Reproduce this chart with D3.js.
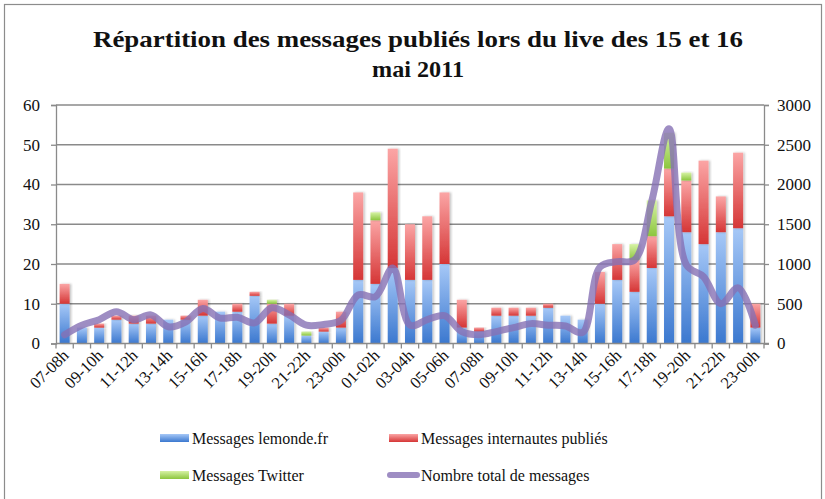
<!DOCTYPE html>
<html>
<head>
<meta charset="utf-8">
<script src="https://cdn.jsdelivr.net/npm/d3@7"></script>
<style>
  body { margin: 0; background: #fff; }
  svg text { font-family: "Liberation Serif", "DejaVu Serif", serif; fill: #111; }
</style>
</head>
<body>
<div id="graphWrapper"></div>
<script>
// hour slots: 15 May 07h -> 16 May 00h, then the whole 16 May
const hours = [];
for (let h = 7; h <= 23; h++) hours.push(h);
for (let h = 0; h <= 23; h++) hours.push(h);
const pad = n => (n < 10 ? '0' : '') + n;
const categories = hours.map(h => pad(h) + '-' + pad((h + 1) % 24) + 'h');

// values
const lemonde     = [10,4,4,6,5,5,6,6,7,8,8,12,5,7,2,3,4,16,15,19,16,16,20,4,3,7,7,7,9,7,6,10,16,13,19,32,28,25,28,29,4];
const internautes = [5,0,1,1,2,2,0,1,4,0,2,1,5,3,0,1,4,22,16,30,14,16,18,7,1,2,2,2,1,0,0,8,9,8,8,12,13,21,9,19,6];
const twitter     = [0,0,0,0,0,0,0,0,0,0,0,0,1,0,1,0,0,0,2,0,0,0,0,0,0,0,0,0,0,0,0,0,0,4,9,9,2,0,0,0,0];
const total       = [110,230,300,400,300,360,210,270,440,320,330,260,450,360,230,240,290,610,590,950,230,300,350,150,110,150,200,250,230,220,140,960,1030,1050,1790,2700,990,840,500,700,230];

const leftTicks = [0,10,20,30,40,50,60];
const rightTicks = [0,500,1000,1500,2000,2500,3000];

const CONSTANTS = {
    WIDTH: 825,
    HEIGHT: 499,
    LEFT: 56,
    RIGHT: 764,
    TOP: 105,
    BOTTOM: 343.5
};

const svg = d3.select('#graphWrapper').append('svg')
    .attr('width', CONSTANTS.WIDTH)
    .attr('height', CONSTANTS.HEIGHT);

// gradients
const defs = svg.append('defs');
function gradient(id, top, bottom) {
    let g = defs.append('linearGradient').attr('id', id)
        .attr('x1', 0).attr('y1', 0).attr('x2', 0).attr('y2', 1);
    g.append('stop').attr('offset', '0%').attr('stop-color', top);
    g.append('stop').attr('offset', '100%').attr('stop-color', bottom);
}
gradient('gBlue', '#a6c8f7', '#3b78cf');
gradient('gRed', '#fba5a5', '#d53636');
gradient('gGreen', '#d6f2a4', '#8cc63e');
defs.append('filter').attr('id', 'shadow')
    .attr('x', '-30%').attr('y', '-10%').attr('width', '160%').attr('height', '120%')
    .append('feDropShadow').attr('dx', 1.5).attr('dy', 0).attr('stdDeviation', 1)
    .attr('flood-color', '#000').attr('flood-opacity', 0.25);

// outer frame
svg.append('rect')
    .attr('x', 4.5).attr('y', 4.5)
    .attr('width', 817).attr('height', 520)
    .attr('fill', 'none').attr('stroke', '#8c8c8c').attr('stroke-width', 1.2);

// title (reference font is wider, so stretch to the same width)
const title = svg.append('text')
    .attr('text-anchor', 'middle')
    .style('font-weight', 'bold')
    .style('font-size', '24px');
title.append('tspan').attr('x', 418).attr('y', 47)
    .attr('textLength', 650).attr('lengthAdjust', 'spacingAndGlyphs')
    .text('Répartition des messages publiés lors du live des 15 et 16');
title.append('tspan').attr('x', 418).attr('y', 77)
    .attr('textLength', 92).attr('lengthAdjust', 'spacingAndGlyphs')
    .text('mai 2011');

// scales
const x = d3.scaleBand()
    .domain(d3.range(categories.length))
    .range([CONSTANTS.LEFT, CONSTANTS.RIGHT])
    .paddingInner(0.42)
    .paddingOuter(0.21);
const yLeft = d3.scaleLinear().domain([0, 60]).range([CONSTANTS.BOTTOM, CONSTANTS.TOP]);
const yRight = d3.scaleLinear().domain([0, 3000]).range([CONSTANTS.BOTTOM, CONSTANTS.TOP]);

// gridlines
svg.append('g').selectAll('line')
    .data(leftTicks.slice(1))
    .enter().append('line')
    .attr('x1', CONSTANTS.LEFT).attr('x2', CONSTANTS.RIGHT)
    .attr('y1', d => yLeft(d)).attr('y2', d => yLeft(d))
    .attr('stroke', '#8a8a8a').attr('stroke-width', 1.3);

// stacked bars
const stackData = categories.map((c, i) => ({ i: i, lemonde: lemonde[i], internautes: internautes[i], twitter: twitter[i] }));
const stack = d3.stack().keys(['lemonde', 'internautes', 'twitter'])(stackData);
const fills = { lemonde: 'url(#gBlue)', internautes: 'url(#gRed)', twitter: 'url(#gGreen)' };

svg.append('g').selectAll('g')
    .data(stack)
    .enter().append('g')
    .attr('fill', d => fills[d.key])
    .selectAll('rect')
    .data(d => d.filter(s => s[1] > s[0]))
    .enter().append('rect')
    .attr('x', d => x(d.data.i))
    .attr('width', x.bandwidth())
    .attr('y', d => yLeft(d[1]))
    .attr('height', d => yLeft(d[0]) - yLeft(d[1]))
    .attr('filter', 'url(#shadow)');

// total line
const line = d3.line()
    .x((d, i) => x(i) + x.bandwidth() / 2)
    .y(d => yRight(d))
    .curve(d3.curveCatmullRom.alpha(0.5));
svg.append('path')
    .datum(total)
    .attr('d', line)
    .attr('fill', 'none')
    .attr('stroke', '#8670b4')
    .attr('stroke-opacity', 0.8)
    .attr('stroke-width', 7)
    .attr('stroke-linecap', 'round')
    .attr('stroke-linejoin', 'round');

// axes
const axisColor = '#8a8a8a';
const leftAxis = svg.append('g')
    .attr('transform', 'translate(' + CONSTANTS.LEFT + ',0)')
    .call(d3.axisLeft(yLeft).tickValues(leftTicks).tickSize(5).tickPadding(11));
const rightAxis = svg.append('g')
    .attr('transform', 'translate(' + CONSTANTS.RIGHT + ',0)')
    .call(d3.axisRight(yRight).tickValues(rightTicks).tickFormat(d3.format('d')).tickSize(5).tickPadding(8));
[leftAxis, rightAxis].forEach(a => {
    a.select('.domain').attr('stroke', axisColor).attr('stroke-width', 1.3);
    a.selectAll('.tick line').attr('stroke', axisColor).attr('stroke-width', 1.3);
    a.selectAll('.tick text').style('font-size', '17px').attr('fill', '#111');
});

// x axis: ticks between categories, labels on every other slot
const xAxis = svg.append('g');
xAxis.append('line')
    .attr('x1', CONSTANTS.LEFT).attr('x2', CONSTANTS.RIGHT + 5)
    .attr('y1', CONSTANTS.BOTTOM).attr('y2', CONSTANTS.BOTTOM)
    .attr('stroke', axisColor).attr('stroke-width', 1.3);
xAxis.selectAll('line.tk')
    .data(d3.range(categories.length + 1))
    .enter().append('line')
    .attr('class', 'tk')
    .attr('x1', i => CONSTANTS.LEFT + i * x.step())
    .attr('x2', i => CONSTANTS.LEFT + i * x.step())
    .attr('y1', CONSTANTS.BOTTOM).attr('y2', CONSTANTS.BOTTOM + 5)
    .attr('stroke', axisColor).attr('stroke-width', 1.3);
xAxis.selectAll('text')
    .data(categories.map((c, i) => ({ c: c, i: i })).filter(d => d.i % 2 === 0))
    .enter().append('text')
    .attr('text-anchor', 'end')
    .style('font-size', '16.5px')
    .attr('transform', d => 'translate(' + (x(d.i) + x.bandwidth() / 2 + 5) + ',' + (CONSTANTS.BOTTOM + 13) + ') rotate(-45)')
    .text(d => d.c);

// legend
const legend = [
    { label: 'Messages lemonde.fr', fill: 'url(#gBlue)', x: 160, y: 438 },
    { label: 'Messages internautes publiés', fill: 'url(#gRed)', x: 389, y: 438 },
    { label: 'Messages Twitter', fill: 'url(#gGreen)', x: 160, y: 475 }
];
const lg = svg.append('g');
legend.forEach(d => {
    lg.append('rect').attr('x', d.x).attr('y', d.y - 4).attr('width', 29).attr('height', 8).attr('fill', d.fill);
    lg.append('text').attr('x', d.x + 32).attr('y', d.y + 6).style('font-size', '16px').text(d.label);
});
lg.append('line')
    .attr('x1', 390).attr('x2', 417).attr('y1', 475).attr('y2', 475)
    .attr('stroke', '#8670b4').attr('stroke-opacity', 0.8)
    .attr('stroke-width', 6).attr('stroke-linecap', 'round');
lg.append('text').attr('x', 421).attr('y', 481).style('font-size', '16px').text('Nombre total de messages');
</script>
</body>
</html>
